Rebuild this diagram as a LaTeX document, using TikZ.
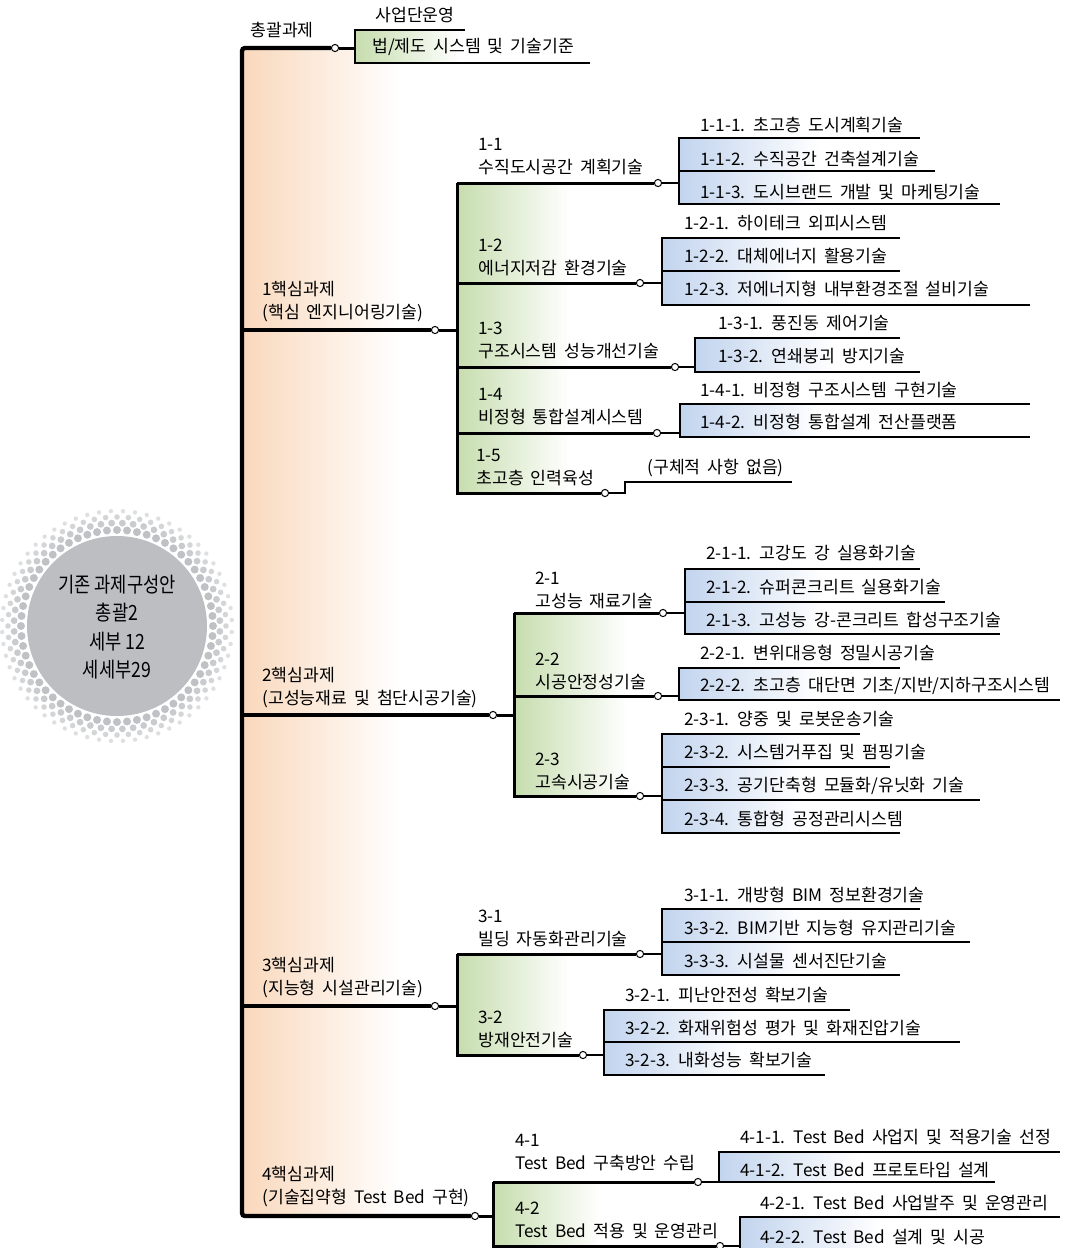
\documentclass[tikz,border=0pt]{standalone}
\usepackage{fontspec}
\setmainfont{Noto Sans CJK KR}[WordSpace=1.8]
\newfontfamily\discfont{Noto Sans CJK KR}[FakeStretch=0.84]
\usetikzlibrary{positioning}
\definecolor{peach}{RGB}{249,216,188}
\definecolor{leafgreen}{RGB}{198,221,174}
\definecolor{paleblue}{RGB}{194,212,238}
\definecolor{discgray}{RGB}{188,190,194}

\begin{document}
\begin{tikzpicture}[x=0.5pt,y=-0.5pt,
    txt/.style={anchor=west, inner sep=0pt, align=left, font=\fontsize{8.6}{11.5}\selectfont},
    knot/.style={circle, draw, fill=white, inner sep=0pt, minimum size=3.6pt, line width=0.5pt},
    trunk/.style={line width=2.2pt},
    branch/.style={line width=2pt},
    stem/.style={line width=1.5pt},
    leafline/.style={line width=1pt},
    orangefade/.style={left color=peach, right color=white},
    greenfade/.style={left color=leafgreen, right color=white},
    bluefade/.style={left color=paleblue, right color=white}]
    \useasboundingbox (0,0) rectangle (1072,1248);

    % shaded backgrounds
    \fill[orangefade] (242,48) rectangle (400,1216);
    \fill[greenfade] (355,30) rectangle (460,63);
    \fill[greenfade] (457,183) rectangle (570,493);
    \fill[greenfade] (514,613) rectangle (627,796);
    \fill[greenfade] (457,954) rectangle (570,1055);
    \fill[greenfade] (493,1182) rectangle (600,1248);
    \fill[bluefade] (679,138) rectangle (819,204);
    \fill[bluefade] (662,238) rectangle (802,305);
    \fill[bluefade] (695,338) rectangle (835,372);
    \fill[bluefade] (680,404) rectangle (820,437);
    \fill[bluefade] (685,569) rectangle (825,634);
    \fill[bluefade] (679,668) rectangle (819,700);
    \fill[bluefade] (662,734) rectangle (802,833);
    \fill[bluefade] (662,909) rectangle (802,975);
    \fill[bluefade] (604,1010) rectangle (744,1075);
    \fill[bluefade] (719,1152) rectangle (859,1182);
    \fill[bluefade] (740,1217) rectangle (880,1248);

    % dotted disc on the left
    \fill[discgray] (117,626) circle[radius=45pt];
    \foreach \r/\s/\c/\o in {96/2/95/0, 103/1.7/80/3, 109/1.4/65/0, 115/1.1/50/3}
        \foreach \a in {0,6,...,354}
            \fill[discgray!\c] (117,626) ++(\a+\o:\r) circle[radius=\s pt];
    \node[align=center, inner sep=0pt, font=\discfont\fontsize{10.5}{14.2}\selectfont] (core) at (117,627)
        {기존 과제구성안\\총괄2\\세부 12\\세세부29};

    % trunk
    \coordinate (top) at (242,48);
    \coordinate (bot) at (242,1216);

    % 총괄과제
    \node[knot] (d0) at (335,48) {};
    \coordinate (b0t) at (355,30);
    \coordinate (b0b) at (355,63);
    \node[txt] (t0) at (250,30) {총괄과제};
    \node[txt] (t01) at (375,15) {사업단운영};
    \node[txt] (t02) at (372,47) {법/제도 시스템 및 기술기준};
    \draw[stem] (d0) -- (d0 -| b0t);
    \draw[leafline] (465,30) -- (b0t) -- (b0b) -- (590,63);

    % 1핵심과제
    \node[knot] (d1) at (435,330) {};
    \coordinate (b1t) at (457,183);
    \coordinate (b1b) at (457,493);
    \node[txt] (t1) at (262,302) {1핵심과제\\(핵심 엔지니어링기술)};
    \draw[branch] (d1) -- (d1 -| top);
    \draw[stem] (d1) -- (d1 -| b1t);

    \node[knot] (d11) at (658,183) {};
    \coordinate (b11t) at (679,138);
    \coordinate (b11b) at (679,204);
    \node[txt] (t11) at (478,157) {1-1\\수직도시공간 계획기술};
    \node[txt] (t111) at (700,125) {1-1-1. 초고층 도시계획기술};
    \node[txt] (t112) at (700,159) {1-1-2. 수직공간 건축설계기술};
    \node[txt] (t113) at (700,192) {1-1-3. 도시브랜드 개발 및 마케팅기술};
    \draw[stem] (b1t) -- (d11);
    \draw[leafline] (d11) -- (d11 -| b11t);
    \draw[leafline] (920,138) -- (b11t) -- (b11b) -- (1000,204);
    \draw[leafline] (679,171) -- (935,171);

    \node[knot] (d12) at (640,283) {};
    \coordinate (b12t) at (662,238);
    \coordinate (b12b) at (662,305);
    \node[txt] (t12) at (478,257) {1-2\\에너지저감 환경기술};
    \node[txt] (t121) at (684,223) {1-2-1. 하이테크 외피시스템};
    \node[txt] (t122) at (684,256) {1-2-2. 대체에너지 활용기술};
    \node[txt] (t123) at (684,289) {1-2-3. 저에너지형 내부환경조절 설비기술};
    \draw[stem] (d12 -| b1t) -- (d12);
    \draw[leafline] (d12) -- (d12 -| b12t);
    \draw[leafline] (900,238) -- (b12t) -- (b12b) -- (1030,305);
    \draw[leafline] (662,271) -- (900,271);

    \node[knot] (d13) at (675,367) {};
    \coordinate (b13t) at (695,338);
    \coordinate (b13b) at (695,372);
    \node[txt] (t13) at (478,340) {1-3\\구조시스템 성능개선기술};
    \node[txt] (t131) at (718,323) {1-3-1. 풍진동 제어기술};
    \node[txt] (t132) at (718,356) {1-3-2. 연쇄붕괴 방지기술};
    \draw[stem] (d13 -| b1t) -- (d13);
    \draw[leafline] (d13) -- (d13 -| b13t);
    \draw[leafline] (900,338) -- (b13t) -- (b13b) -- (920,372);

    \node[knot] (d14) at (657,433) {};
    \coordinate (b14t) at (680,404);
    \coordinate (b14b) at (680,437);
    \node[txt] (t14) at (478,407) {1-4\\비정형 통합설계시스템};
    \node[txt] (t141) at (700,390) {1-4-1. 비정형 구조시스템 구현기술};
    \node[txt] (t142) at (700,422) {1-4-2. 비정형 통합설계 전산플랫폼};
    \draw[stem] (d14 -| b1t) -- (d14);
    \draw[leafline] (d14) -- (d14 -| b14t);
    \draw[leafline] (1030,404) -- (b14t) -- (b14b) -- (1030,437);

    \node[knot] (d15) at (605,493) {};
    \coordinate (s15) at (625,482);
    \node[txt] (t15) at (476,468) {1-5\\초고층 인력육성};
    \node[txt] (t151) at (647,468) {(구체적 사항 없음)};
    \draw[stem] (b1t) -- (b1b) -- (d15);
    \draw[leafline] (d15) -| (s15) -- (792,482);

    % 2핵심과제
    \node[knot] (d2) at (493,715) {};
    \coordinate (b2t) at (514,613);
    \coordinate (b2b) at (514,796);
    \node[txt] (t2) at (262,688) {2핵심과제\\(고성능재료 및 첨단시공기술)};
    \draw[branch] (d2) -- (d2 -| top);
    \draw[stem] (d2) -- (d2 -| b2t);

    \node[knot] (d21) at (663,613) {};
    \coordinate (b21t) at (685,569);
    \coordinate (b21b) at (685,634);
    \node[txt] (t21) at (535,590) {2-1\\고성능 재료기술};
    \node[txt] (t211) at (706,553) {2-1-1. 고강도 강 실용화기술};
    \node[txt] (t212) at (706,587) {2-1-2. 슈퍼콘크리트 실용화기술};
    \node[txt] (t213) at (706,620) {2-1-3. 고성능 강-콘크리트 합성구조기술};
    \draw[stem] (b2t) -- (d21);
    \draw[leafline] (d21) -- (d21 -| b21t);
    \draw[leafline] (920,569) -- (b21t) -- (b21b) -- (1000,634);
    \draw[leafline] (685,602) -- (945,602);

    \node[knot] (d22) at (658,696) {};
    \coordinate (b22t) at (679,668);
    \coordinate (b22b) at (679,700);
    \node[txt] (t22) at (535,671) {2-2\\시공안정성기술};
    \node[txt] (t221) at (700,653) {2-2-1. 변위대응형 정밀시공기술};
    \node[txt] (t222) at (700,686) {2-2-2. 초고층 대단면 기초/지반/지하구조시스템};
    \draw[stem] (d22 -| b2t) -- (d22);
    \draw[leafline] (d22) -- (d22 -| b22t);
    \draw[leafline] (900,668) -- (b22t) -- (b22b) -- (1060,700);

    \node[knot] (d23) at (640,796) {};
    \coordinate (b23t) at (662,734);
    \coordinate (b23b) at (662,833);
    \node[txt] (t23) at (535,771) {2-3\\고속시공기술};
    \node[txt] (t231) at (684,719) {2-3-1. 양중 및 로봇운송기술};
    \node[txt] (t232) at (684,752) {2-3-2. 시스템거푸집 및 펌핑기술};
    \node[txt] (t233) at (684,786) {2-3-3. 공기단축형 모듈화/유닛화 기술};
    \node[txt] (t234) at (684,819) {2-3-4. 통합형 공정관리시스템};
    \draw[stem] (b2t) -- (b2b) -- (d23);
    \draw[leafline] (d23) -- (d23 -| b23t);
    \draw[leafline] (860,734) -- (b23t) -- (b23b) -- (900,833);
    \draw[leafline] (662,767) -- (890,767);
    \draw[leafline] (662,800) -- (980,800);

    % 3핵심과제
    \node[knot] (d3) at (435,1006) {};
    \coordinate (b3t) at (457,954);
    \coordinate (b3b) at (457,1055);
    \node[txt] (t3) at (262,978) {3핵심과제\\(지능형 시설관리기술)};
    \draw[branch] (d3) -- (d3 -| top);
    \draw[stem] (d3) -- (d3 -| b3t);

    \node[knot] (d31) at (640,954) {};
    \coordinate (b31t) at (662,909);
    \coordinate (b31b) at (662,975);
    \node[txt] (t31) at (478,928) {3-1\\빌딩 자동화관리기술};
    \node[txt] (t311) at (684,895) {3-1-1. 개방형 BIM 정보환경기술};
    \node[txt] (t312) at (684,928) {3-3-2. BIM기반 지능형 유지관리기술};
    \node[txt] (t313) at (684,961) {3-3-3. 시설물 센서진단기술};
    \draw[stem] (b3t) -- (d31);
    \draw[leafline] (d31) -- (d31 -| b31t);
    \draw[leafline] (920,909) -- (b31t) -- (b31b) -- (900,975);
    \draw[leafline] (662,942) -- (970,942);

    \node[knot] (d32) at (583,1055) {};
    \coordinate (b32t) at (604,1010);
    \coordinate (b32b) at (604,1075);
    \node[txt] (t32) at (478,1029) {3-2\\방재안전기술};
    \node[txt] (t321) at (625,995) {3-2-1. 피난안전성 확보기술};
    \node[txt] (t322) at (625,1028) {3-2-2. 화재위험성 평가 및 화재진압기술};
    \node[txt] (t323) at (625,1060) {3-2-3. 내화성능 확보기술};
    \draw[stem] (b3t) -- (b3b) -- (d32);
    \draw[leafline] (d32) -- (d32 -| b32t);
    \draw[leafline] (850,1010) -- (b32t) -- (b32b) -- (825,1075);
    \draw[leafline] (604,1042) -- (960,1042);

    % 4핵심과제
    \node[knot] (d4) at (475,1216) {};
    \coordinate (b4t) at (493,1182);
    \coordinate (b4b) at (493,1250);
    \node[txt] (t4) at (262,1187) {4핵심과제\\(기술집약형 Test Bed 구현)};
    \draw[stem] (d4) -- (d4 -| b4t);

    \node[knot] (d41) at (698,1182) {};
    \coordinate (b41t) at (719,1152);
    \coordinate (b41b) at (719,1182);
    \node[txt] (t41) at (515,1153) {4-1\\Test Bed 구축방안 수립};
    \node[txt] (t411) at (740,1137) {4-1-1. Test Bed 사업지 및 적용기술 선정};
    \node[txt] (t412) at (740,1170) {4-1-2. Test Bed 프로토타입 설계};
    \draw[stem] (b4t) -- (d41);
    \draw[leafline] (d41) -- (b41b) -- (995,1182);
    \draw[leafline] (1060,1152) -- (b41t) -- (b41b);

    \node[knot] (d42) at (720,1246) {};
    \coordinate (b42t) at (740,1217);
    \coordinate (b42b) at (740,1250);
    \node[txt] (t42) at (515,1220) {4-2\\Test Bed 적용 및 운영관리};
    \node[txt] (t421) at (760,1203) {4-2-1. Test Bed 사업발주 및 운영관리};
    \node[txt] (t422) at (760,1237) {4-2-2. Test Bed 설계 및 시공};
    \draw[stem] (b4t) -- (b4b);
    \draw[stem] (d42 -| b4t) -- (d42);
    \draw[leafline] (d42) -- (d42 -| b42t);
    \draw[leafline] (1060,1217) -- (b42t) -- (b42b);

    % trunk line
    \draw[trunk, rounded corners=1.5pt] (d0) -- (top) -- (bot) -- (d4);
\end{tikzpicture}
\end{document}
